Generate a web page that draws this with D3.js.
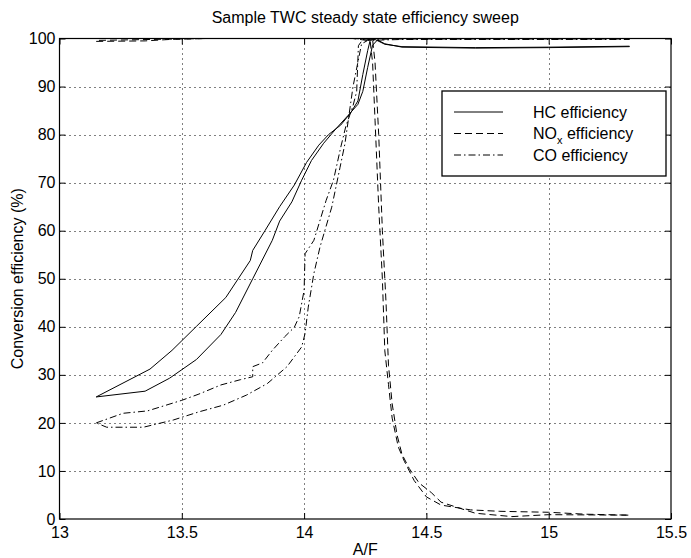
<!DOCTYPE html>
<html>
<head>
<meta charset="utf-8">
<script src="https://cdn.jsdelivr.net/npm/d3@7"></script>
<style>
  body { margin: 0; background: #fff; }
  svg text { font-family: "Liberation Sans", Arial, Helvetica, sans-serif; fill: #000; }
</style>
</head>
<body>
<div id="root"></div>
<script>
// Tick labels
const xTicks = [13, 13.5, 14, 14.5, 15, 15.5];
const yTicks = [0, 10, 20, 30, 40, 50, 60, 70, 80, 90, 100];

const hcUp = [[13.15,25.4],[13.37,31.2],[13.46,35.1],[13.56,40.1],[13.68,46.1],[13.78,53.8],[13.79,55.9],[13.84,60],[13.90,65],[13.96,69.5],[14.01,74.2],[14.06,77.8],[14.10,80],[14.15,82],[14.19,84.5],[14.22,87],[14.24,92.5],[14.26,97.5],[14.27,99.6],[14.29,99.8],[14.33,98.8],[14.40,98.3],[14.70,98.1],[15.00,98.2],[15.33,98.4]];
const hcDown = [[15.33,98.3],[15.00,98.1],[14.70,98.0],[14.40,98.2],[14.33,98.9],[14.30,99.7],[14.28,98.6],[14.26,94],[14.24,89],[14.22,86.3],[14.18,84],[14.13,81.2],[14.08,78.2],[14.03,74.6],[13.99,70.5],[13.95,66],[13.90,62],[13.87,58],[13.79,50],[13.72,43],[13.66,38.4],[13.56,33.2],[13.45,29.3],[13.35,26.6],[13.15,25.4]];

const noxUp = [[13.15,99.4],[13.35,99.5],[13.45,99.8],[13.60,100],[14.00,100],[14.20,100],[14.27,99.5],[14.28,95],[14.29,83],[14.305,65],[14.32,50],[14.33,35],[14.345,28],[14.36,21],[14.385,15],[14.41,12],[14.45,8],[14.50,4.6],[14.56,2.9],[14.68,1.9],[14.80,1.6],[15.00,1.4],[15.15,1.0],[15.33,0.8]];
const noxDown = [[15.33,0.8],[15.00,0.9],[14.85,0.5],[14.70,1.2],[14.56,3.5],[14.52,5.5],[14.47,7.5],[14.43,10.5],[14.40,13.5],[14.38,17.5],[14.36,24],[14.345,32],[14.335,45],[14.32,60],[14.305,80],[14.29,95],[14.28,99.8],[14.20,100],[13.60,100],[13.15,99.6]];

const coUp = [[13.15,20],[13.26,22],[13.36,22.5],[13.50,24.7],[13.57,26],[13.66,27.9],[13.74,29],[13.79,29.6],[13.79,31.7],[13.83,32.5],[13.87,35.1],[13.92,37.9],[13.96,39.9],[13.98,42.1],[14.00,47.6],[14.004,55.2],[14.04,58],[14.09,66.3],[14.12,70.5],[14.15,77.4],[14.17,81.6],[14.20,86],[14.215,89],[14.222,98.5],[14.24,99.8],[14.40,99.9],[15.33,99.9]];
const coDown = [[15.33,99.8],[14.40,99.8],[14.26,99.6],[14.235,98.9],[14.20,90],[14.167,78.1],[14.147,73.2],[14.113,64.9],[14.065,56.6],[14.04,51.1],[14.017,44.1],[14.004,38.6],[13.99,35.8],[13.93,31.7],[13.85,28.2],[13.765,25.8],[13.67,23.7],[13.57,22.3],[13.465,20.6],[13.343,19.1],[13.193,19.1],[13.15,20]];

const seriesNames = ["HC efficiency", "NO", "CO efficiency"];

const width = 691;
const height = 558;
const plotL = 59.5, plotR = 671, plotT = 38.5, plotB = 519;
const fontSize = 16;

const x = d3.scaleLinear().domain([13, 15.5]).range([plotL, plotR]);
const y = d3.scaleLinear().domain([0, 100]).range([plotB, plotT]);

const svg = d3.select("#root").append("svg")
  .attr("width", width)
  .attr("height", height);

// dotted grid
const grid = svg.append("g")
  .attr("stroke", "#000")
  .attr("stroke-width", 1)
  .attr("stroke-dasharray", "1,4");
grid.selectAll(".gx")
  .data(xTicks.slice(1, -1))
  .join("line")
  .attr("x1", d => Math.round(x(d)) + 0.5)
  .attr("x2", d => Math.round(x(d)) + 0.5)
  .attr("y1", plotT)
  .attr("y2", plotB);
grid.selectAll(".gy")
  .data(yTicks.slice(1, -1))
  .join("line")
  .attr("y1", d => Math.round(y(d)) + 0.5)
  .attr("y2", d => Math.round(y(d)) + 0.5)
  .attr("x1", plotL)
  .attr("x2", plotR);

// curves
const line = d3.line().x(d => x(d[0])).y(d => y(d[1]));
const styles = [
  { data: hcUp.concat(hcDown), dash: null },
  { data: noxUp.concat(noxDown), dash: "7,4" },
  { data: coUp.concat(coDown), dash: "7,3,1.5,3" }
];
svg.append("g").selectAll("path")
  .data(styles)
  .join("path")
  .attr("d", d => line(d.data))
  .attr("fill", "none")
  .attr("stroke", "#000")
  .attr("stroke-width", 1)
  .attr("stroke-dasharray", d => d.dash);

// axes, inward ticks on all four sides
const fmt = d => String(d);
svg.append("g")
  .attr("transform", `translate(0,${plotB})`)
  .call(d3.axisBottom(x).tickValues(xTicks).tickFormat(fmt).tickSizeInner(-6).tickSizeOuter(0).tickPadding(8))
  .call(g => g.select(".domain").remove())
  .call(g => g.selectAll("text").attr("font-size", fontSize));
svg.append("g")
  .attr("transform", `translate(0,${plotT})`)
  .call(d3.axisTop(x).tickValues(xTicks).tickFormat("").tickSizeInner(-6).tickSizeOuter(0))
  .call(g => g.select(".domain").remove());
svg.append("g")
  .attr("transform", `translate(${plotL},0)`)
  .call(d3.axisLeft(y).tickValues(yTicks).tickFormat(fmt).tickSizeInner(-6).tickSizeOuter(0).tickPadding(4))
  .call(g => g.select(".domain").remove())
  .call(g => g.selectAll("text").attr("font-size", fontSize));
svg.append("g")
  .attr("transform", `translate(${plotR},0)`)
  .call(d3.axisRight(y).tickValues(yTicks).tickFormat("").tickSizeInner(-6).tickSizeOuter(0))
  .call(g => g.select(".domain").remove());

svg.append("rect")
  .attr("x", plotL).attr("y", plotT)
  .attr("width", plotR - plotL).attr("height", plotB - plotT)
  .attr("fill", "none")
  .attr("stroke", "#000")
  .attr("stroke-width", 1.2);

// legend
const lg = svg.append("g");
lg.append("rect")
  .attr("x", 442).attr("y", 91)
  .attr("width", 224).attr("height", 85)
  .attr("fill", "#fff")
  .attr("stroke", "#000")
  .attr("stroke-width", 1.3);
const rows = lg.selectAll(".row")
  .data(styles)
  .join("g")
  .attr("transform", (d, i) => `translate(0,${112 + i * 21.5})`);
rows.append("line")
  .attr("x1", 454).attr("x2", 503)
  .attr("stroke", "#000")
  .attr("stroke-width", 1)
  .attr("stroke-dasharray", d => d.dash);
rows.append("text")
  .attr("x", 533).attr("y", 5.5)
  .attr("font-size", fontSize)
  .each(function (d, i) {
    const t = d3.select(this);
    if (i === 1) {
      t.append("tspan").text(seriesNames[i]);
      t.append("tspan").attr("dy", 5).attr("font-size", 11).text("x");
      t.append("tspan").attr("dy", -5).text(" efficiency");
    } else {
      t.text(seriesNames[i]);
    }
  });

// labels
svg.append("text")
  .attr("x", (plotL + plotR) / 2).attr("y", 23)
  .attr("text-anchor", "middle")
  .attr("font-size", fontSize)
  .text("Sample TWC steady state efficiency sweep");
svg.append("text")
  .attr("x", (plotL + plotR) / 2).attr("y", 555)
  .attr("text-anchor", "middle")
  .attr("font-size", fontSize)
  .text("A/F");
svg.append("text")
  .attr("transform", `translate(23,${(plotT + plotB) / 2}) rotate(-90)`)
  .attr("text-anchor", "middle")
  .attr("font-size", fontSize)
  .text("Conversion efficiency (%)");
</script>
</body>
</html>
